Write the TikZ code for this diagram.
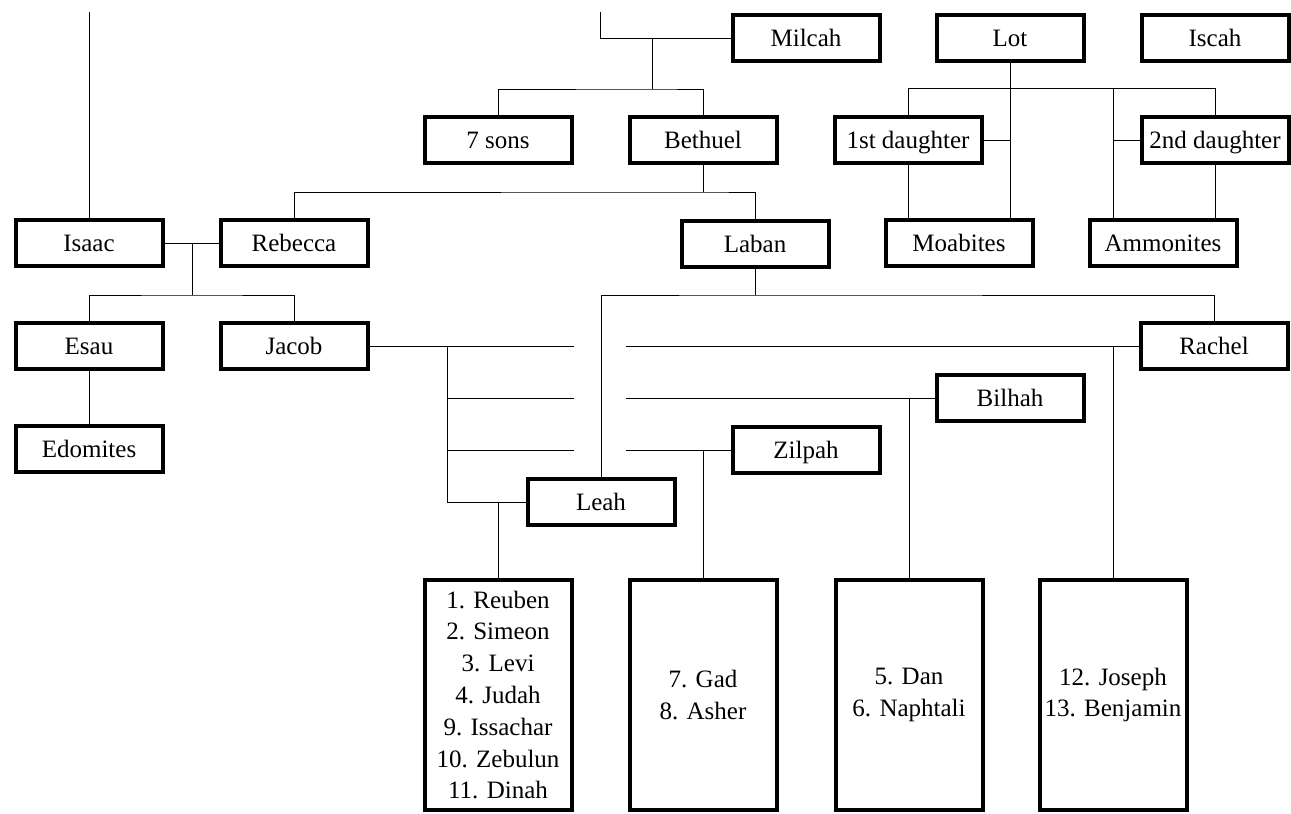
\documentclass[tikz,border=0pt]{standalone}
\usepackage{fontspec}
\setmainfont{Liberation Serif}
\tikzset{
  frame/.style={draw,line width=4pt,fill=white,minimum width=147pt,inner sep=2pt,font=\fontsize{25}{31.8}\selectfont},
  box/.style={frame,minimum height=46pt,text height=22pt,text depth=5pt},
  kids/.style={frame,minimum height=230pt,align=center},
  ln/.style={line width=1pt}
}
\begin{document}
\begin{tikzpicture}[x=1pt,y=-1pt]
\useasboundingbox (0,0) rectangle (1291,814);
% top row
\node[box] (milcah) at (806,38) {Milcah};
\node[box] (lot) at (1010,38) {Lot};
\node[box] (iscah) at (1215,38) {Iscah};
\node[box] (sons) at (498,140) {7 sons};
\node[box] (bethuel) at (703,140) {Bethuel};
\node[box] (dau1) at (908,140) {1st daughter};
\node[box] (dau2) at (1215,140) {2nd daughter};
% middle rows
\node[box] (isaac) at (89,243) {Isaac};
\node[box] (rebecca) at (294,243) {Rebecca};
\node[box] (laban) at (755,244) {Laban};
\node[box] (moab) at (959,243) {Moabites};
\node[box] (ammon) at (1163,243) {Ammonites};
\node[box] (esau) at (89,346) {Esau};
\node[box] (jacob) at (294,346) {Jacob};
\node[box] (rachel) at (1214,346) {Rachel};
\node[box] (bilhah) at (1010,398) {Bilhah};
\node[box] (edom) at (89,449) {Edomites};
\node[box] (zilpah) at (806,450) {Zilpah};
\node[box] (leah) at (601,502) {Leah};
% the sons of Jacob
\node[kids] (leahs) at (498,695) {1. Reuben\\2. Simeon\\3. Levi\\4. Judah\\9. Issachar\\10. Zebulun\\11. Dinah};
\node[kids] (zilpahs) at (703,695) {7. Gad\\8. Asher};
\node[kids] (bilhahs) at (909,695) {5. Dan\\6. Naphtali};
\node[kids] (rachels) at (1113,695) {12. Joseph\\13. Benjamin};
% Isaac, Milcah
\coordinate (abr) at (89,12);
\coordinate (nah) at (600,12);
\coordinate (mk) at (652,38);
\coordinate (mb) at (652,89);
\draw[ln] (abr) -- (isaac.north);
\draw[ln] (nah) |- (milcah.west);
\draw[ln] (mk) -- (mb);
\draw[ln] (sons.north) |- (mb) -| (bethuel.north);
% Lot
\coordinate (am) at (1113,89);
\draw[ln] (lot.south) -- (lot.south |- moab.north);
\draw[ln] (dau1.north) -- ++(0,-27) -| (dau2.north);
\draw[ln] (am) -- (am |- ammon.north);
\draw[ln] (dau1.east) -- (dau1.east -| lot.south);
\draw[ln] (dau2.west) -- (dau2.west -| am);
\draw[ln] (dau1.south) -- (dau1.south |- moab.north);
\draw[ln] (dau2.south) -- (dau2.south |- ammon.north);
% Bethuel
\coordinate (bb) at (703,192);
\draw[ln] (bethuel.south) -- (bb);
\draw[ln] (rebecca.north) |- (bb) -| (laban.north);
% Isaac and Rebecca
\coordinate (ir) at (192,243);
\coordinate (irb) at (192,295);
\draw[ln] (isaac.east) -- (rebecca.west);
\draw[ln] (ir) -- (irb);
\draw[ln] (esau.north) |- (irb) -| (jacob.north);
\draw[ln] (esau.south) -- (edom.north);
% Laban
\coordinate (lbb) at (755,295);
\draw[ln] (laban.south) -- (lbb);
\draw[ln] (leah.north) |- (lbb) -| (rachel.north);
% Jacob and his wives
\coordinate (jv) at (447,346);
\coordinate (gl) at (574,0);
\coordinate (gr) at (626,0);
\draw[ln] (jacob.east) -- (jv) |- (leah.west);
\foreach \w in {rachel,bilhah,zilpah}
  \draw[ln] (jv |- \w.west) -- (gl |- \w.west) (gr |- \w.west) -- (\w.west);
\draw[ln] (leahs.north) -- (leahs.north |- leah.west);
\draw[ln] (zilpahs.north) -- (zilpahs.north |- zilpah.west);
\draw[ln] (bilhahs.north) -- (bilhahs.north |- bilhah.west);
\draw[ln] (rachels.north) -- (rachels.north |- rachel.west);
\end{tikzpicture}
\end{document}
